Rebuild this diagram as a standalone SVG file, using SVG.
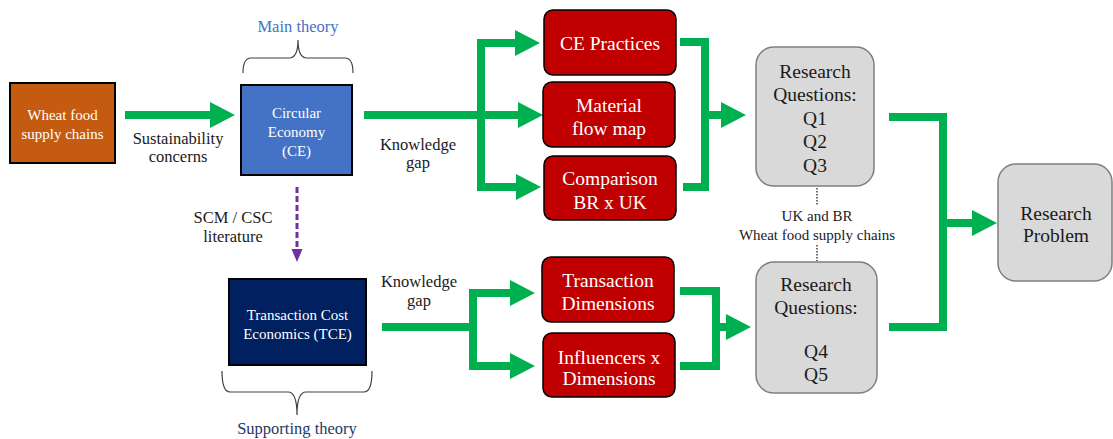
<svg xmlns="http://www.w3.org/2000/svg" width="1113" height="439" viewBox="0 0 1113 439" font-family="'Liberation Serif', 'DejaVu Serif', serif">
<style>
text{text-anchor:middle}
.w{fill:#fff}
.k{fill:#1a1a1a}
.red{fill:#C00000;stroke:#000;stroke-width:1.5}
.rq{fill:#D9D9D9;stroke:#7F7F7F;stroke-width:1.5}
.g{fill:none;stroke:#00B050;stroke-width:8;stroke-linejoin:miter}
.brace{fill:none;stroke:#404040;stroke-width:1.2}
.dot{stroke:#404040;stroke-width:1.5;stroke-dasharray:1.5 1.5}
.t19{font-size:19.5px}
</style>
<defs>
<marker id="ga" markerUnits="userSpaceOnUse" markerWidth="26" markerHeight="26" refX="0" refY="13" orient="auto" viewBox="0 0 26 26">
<path d="M0,0 L25,13 L0,26 z" fill="#00B050"/>
</marker>
</defs>
<rect width="1113" height="439" fill="#fff"/>

<g id="connectors">
<path class="g" d="M125,115 H210" marker-end="url(#ga)"/>
<path class="g" d="M364,115 H518" marker-end="url(#ga)"/>
<path class="g" d="M481,115 V43 H515" marker-end="url(#ga)"/>
<path class="g" d="M481,115 V187 H516" marker-end="url(#ga)"/>
<path class="g" d="M680,42 H705 V187 H683"/>
<path class="g" d="M705,115 H721" marker-end="url(#ga)"/>
<path class="g" d="M889,117 H943 V327 H889"/>
<path class="g" d="M943,223 H972" marker-end="url(#ga)"/>
<path class="g" d="M382,327 H473"/>
<path class="g" d="M473,327 V293 H510" marker-end="url(#ga)"/>
<path class="g" d="M473,327 V366 H510" marker-end="url(#ga)"/>
<path class="g" d="M680,291 H716 V366 H680"/>
<path class="g" d="M716,327 H726" marker-end="url(#ga)"/>
<path d="M297,187 V250" stroke="#7030A0" stroke-width="3" stroke-dasharray="6 3" fill="none"/>
<path d="M291.5,249 L302.5,249 L297,262 z" fill="#7030A0"/>
<line class="dot" x1="817" y1="188" x2="817" y2="205"/>
<line class="dot" x1="817" y1="245" x2="817" y2="261"/>
</g>

<g id="wheat">
<rect x="10" y="83" width="105" height="80" fill="#C55A11" stroke="#000" stroke-width="2"/>
<text class="w" x="62.5" y="120" font-size="15">Wheat food</text>
<text class="w" x="62.5" y="139" font-size="15">supply chains</text>
</g>
<g id="sustain-label">
<text class="k" x="178" y="143.5" font-size="16.5">Sustainability</text>
<text class="k" x="178" y="162" font-size="16.5">concerns</text>
</g>

<g id="ce">
<rect x="241" y="85" width="111" height="90" fill="#4472C4" stroke="#000" stroke-width="2"/>
<text class="w" x="296.5" y="118" font-size="15">Circular</text>
<text class="w" x="296.5" y="137" font-size="15">Economy</text>
<text class="w" x="296.5" y="156" font-size="15">(CE)</text>
</g>
<g id="main-theory">
<path class="brace" d="M243,73 Q243,58 251,58 L289,58 Q298,58 298,40 Q298,58 307,58 L345,58 Q353,58 353,73"/>
<text x="298" y="31.5" font-size="16.5" fill="#4472C4">Main theory</text>
</g>

<g id="kg-top">
<text class="k" x="418" y="150" font-size="16.5">Knowledge</text>
<text class="k" x="418" y="168" font-size="16.5">gap</text>
</g>

<g id="scm-label">
<text class="k" x="233" y="222.5" font-size="16.5">SCM / CSC</text>
<text class="k" x="233" y="242" font-size="16.5">literature</text>
</g>

<g id="tce">
<rect x="229" y="279" width="137" height="86" fill="#002060" stroke="#000" stroke-width="2"/>
<text class="w" x="297.5" y="320" font-size="15">Transaction Cost</text>
<text class="w" x="297.5" y="338.5" font-size="15">Economics (TCE)</text>
</g>
<g id="supporting-theory">
<path class="brace" d="M222,371 Q222,392 230,392 L288,392 Q297,392 297,415 Q297,392 306,392 L364,392 Q372,392 372,371"/>
<text x="297" y="433.5" font-size="16.5" fill="#1F3864">Supporting theory</text>
</g>

<g id="kg-bottom">
<text class="k" x="419" y="287" font-size="16.5">Knowledge</text>
<text class="k" x="419" y="306" font-size="16.5">gap</text>
</g>

<g id="ce-practices">
<rect class="red" x="544" y="10" width="132" height="65" rx="9"/>
<text class="w t19" x="610" y="50">CE Practices</text>
</g>
<g id="material-flow">
<rect class="red" x="543" y="82" width="132" height="65" rx="9"/>
<text class="w t19" x="609" y="111.5">Material</text>
<text class="w t19" x="609" y="134.5">flow map</text>
</g>
<g id="comparison">
<rect class="red" x="544" y="156" width="132" height="64" rx="9"/>
<text class="w t19" x="610" y="184.5">Comparison</text>
<text class="w t19" x="610" y="208.5">BR x UK</text>
</g>
<g id="transaction-dimensions">
<rect class="red" x="542" y="257" width="132" height="65" rx="9"/>
<text class="w t19" x="608" y="286.5">Transaction</text>
<text class="w t19" x="608" y="309.5">Dimensions</text>
</g>
<g id="influencers">
<rect class="red" x="543" y="333" width="132" height="64" rx="9"/>
<text class="w t19" x="609" y="363.5">Influencers x</text>
<text class="w t19" x="609" y="385">Dimensions</text>
</g>

<g id="rq1">
<rect class="rq" x="756" y="47" width="118" height="139" rx="18"/>
<text class="k t19" x="815" y="77.5">Research</text>
<text class="k t19" x="815" y="100.5">Questions:</text>
<text class="k t19" x="815" y="124.5">Q1</text>
<text class="k t19" x="815" y="148">Q2</text>
<text class="k t19" x="815" y="171.5">Q3</text>
</g>
<g id="uk-br">
<text class="k" x="817" y="221" font-size="15">UK and BR</text>
<text class="k" x="817" y="239.5" font-size="15">Wheat food supply chains</text>
</g>
<g id="rq2">
<rect class="rq" x="756" y="262" width="121" height="131" rx="18"/>
<text class="k t19" x="816" y="290.5">Research</text>
<text class="k t19" x="816" y="313.5">Questions:</text>
<text class="k t19" x="816" y="357.5">Q4</text>
<text class="k t19" x="816" y="380.5">Q5</text>
</g>
<g id="research-problem">
<rect class="rq" x="998" y="164" width="114" height="117" rx="18"/>
<text class="k t19" x="1056" y="219.5">Research</text>
<text class="k t19" x="1056" y="242">Problem</text>
</g>
</svg>
